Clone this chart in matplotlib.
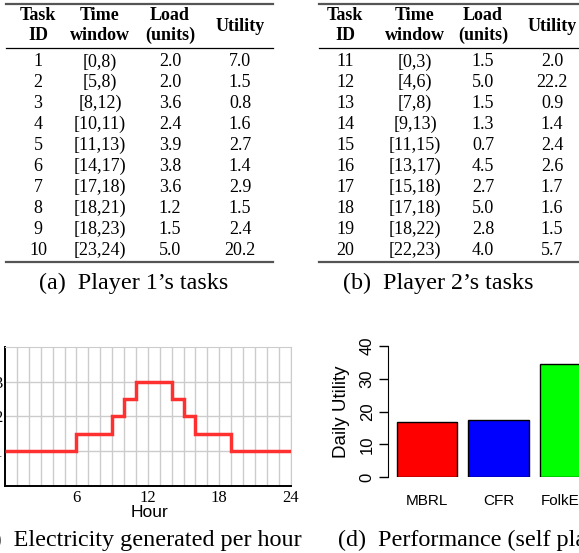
import matplotlib.pyplot as plt
import numpy as np

#data
task_ids_1 = ['1', '2', '3', '4', '5', '6', '7', '8', '9', '10']
windows_1 = ['[0,8)', '[5,8)', '[8,12)', '[10,11)', '[11,13)', '[14,17)',
             '[17,18)', '[18,21)', '[18,23)', '[23,24)']
loads_1 = ['2.0', '2.0', '3.6', '2.4', '3.9', '3.8', '3.6', '1.2', '1.5', '5.0']
utils_1 = ['7.0', '1.5', '0.8', '1.6', '2.7', '1.4', '2.9', '1.5', '2.4', '20.2']

task_ids_2 = ['11', '12', '13', '14', '15', '16', '17', '18', '19', '20']
windows_2 = ['[0,3)', '[4,6)', '[7,8)', '[9,13)', '[11,15)', '[13,17)',
             '[15,18)', '[17,18)', '[18,22)', '[22,23)']
loads_2 = ['1.5', '5.0', '1.5', '1.3', '0.7', '4.5', '2.7', '5.0', '2.8', '4.0']
utils_2 = ['2.0', '22.2', '0.9', '1.4', '2.4', '2.6', '1.7', '1.6', '1.5', '5.7']

# electricity generated in each hour 0..23
generation = [1, 1, 1, 1, 1, 1, 1.5, 1.5, 1.5, 2, 2.5, 3,
              3, 3, 2.5, 2, 1.5, 1.5, 1.5, 1, 1, 1, 1, 1]

methods = ['MBRL', 'CFR', 'FolkEGT']
daily_utility = [16.8, 17.3, 34.4]
bar_colors = ['#ff0000', '#0000ff', '#00ff00']

#const
W, H = 579, 553
SERIF = 'Liberation Serif'
SANS = 'Liberation Sans'


def px(l, t, r, b):
    return [l / W, 1 - b / H, (r - l) / W, (b - t) / H]


fig = plt.figure(figsize=(W / 100, H / 100), dpi=100)

# overlay in pixel units for tables and captions
ov = fig.add_axes([0, 0, 1, 1])
ov.set_xlim(0, W)
ov.set_ylim(H, 0)
ov.axis('off')


def table(x0, x1, cols, data):
    ov.plot([x0, x1], [4, 4], color='#555555', lw=1.6)
    ov.plot([x0, x1], [48, 48], color='black', lw=0.9)
    ov.plot([x0, x1], [261.5, 261.5], color='#555555', lw=1.6)
    hd = dict(fontsize=13, family=SERIF, weight='bold', ha='center', va='baseline')
    ov.text(cols[0], 20.5, 'Task', **hd)
    ov.text(cols[0], 40, 'ID', **hd)
    ov.text(cols[1], 20.5, 'Time', **hd)
    ov.text(cols[1], 40, 'window', **hd)
    ov.text(cols[2], 20.5, 'Load', **hd)
    ov.text(cols[2], 40, '(units)', **hd)
    ov.text(cols[3], 31, 'Utility', **hd)
    for c, col in zip(cols, data):
        for i, s in enumerate(col):
            ov.text(c, 66.5 + i * 20.9, s, fontsize=13, family=SERIF,
                    ha='center', va='baseline')


table(6, 273, [38, 100, 170, 240], [task_ids_1, windows_1, loads_1, utils_1])
table(319, 590, [345, 415, 483, 552], [task_ids_2, windows_2, loads_2, utils_2])

cap = dict(fontsize=17.4, family=SERIF, va='baseline')
ov.text(134, 289, '(a)  Player 1\u2019s tasks', ha='center', **cap)
ov.text(438, 289, '(b)  Player 2\u2019s tasks', ha='center', **cap)
ov.text(302, 546, '(c)  Electricity generated per hour', ha='right', **cap)
ov.text(338, 546, '(d)  Performance (self play)', ha='left', **cap)

#plot c
ax = fig.add_axes(px(5, 347, 290.7, 485.7))
ax.stairs(generation, np.arange(len(generation) + 1), baseline=None,
          color='#ff3030', lw=2.5, zorder=3)
ax.set_xlim(0, 24)
ax.set_ylim(0, 4)
ax.set_xticks([6, 12, 18, 24])
ax.set_xticks(np.arange(1, 24), minor=True)
ax.set_yticks([1, 2, 3])
ax.grid(True, which='both', color='#cccccc', lw=1)
ax.tick_params(which='both', length=0)
ax.tick_params(axis='x', pad=3)
ax.tick_params(axis='y', pad=2)
for lab in ax.get_xticklabels() + ax.get_yticklabels():
    lab.set_family(SERIF)
    lab.set_fontsize(12)
for s in ['top', 'right']:
    ax.spines[s].set_color('#cccccc')
for s in ['left', 'bottom']:
    ax.spines[s].set_linewidth(1.4)
ov.text(149, 517, 'Hour', fontsize=12.5, family=SANS, ha='center', va='baseline')

#plot d
bx = fig.add_axes(px(388, 346, 579, 477))
bx.bar(range(len(methods)), daily_utility, width=0.836, color=bar_colors,
       edgecolor='black', lw=1)
bx.set_xlim(-0.539, 2.121)
bx.set_ylim(0, 40)
bx.set_yticks([0, 10, 20, 30, 40])
bx.set_xticks(range(len(methods)))
bx.set_xticklabels(methods)
for s in ['top', 'right', 'bottom']:
    bx.spines[s].set_visible(False)
bx.tick_params(axis='y', length=6.5, width=1, pad=3)
bx.tick_params(axis='x', length=0, pad=12)
for lab in bx.get_yticklabels():
    lab.set_family(SANS)
    lab.set_fontsize(12)
    lab.set_rotation(90)
    lab.set_va('center')
for lab in bx.get_xticklabels():
    lab.set_family(SANS)
    lab.set_fontsize(11)
bx.set_ylabel('Daily Utility', family=SANS, fontsize=13.5, labelpad=7)
bx.patch.set_visible(False)

fig.savefig('out.png', dpi=100)
